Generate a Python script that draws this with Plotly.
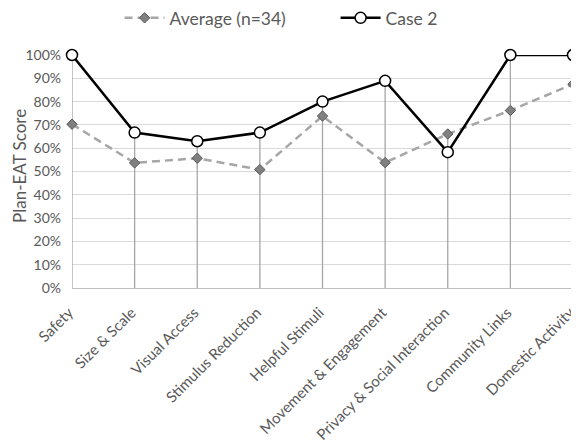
import plotly.graph_objects as go

categories = ["Safety", "Size & Scale", "Visual Access", "Stimulus Reduction",
              "Helpful Stimuli", "Movement & Engagement", "Privacy & Social Interaction",
              "Community Links", "Domestic Activity"]
average_n34 = [70.3, 53.7, 55.7, 50.8, 73.8, 53.8, 66.1, 76.2, 87.5]
case_2 = [100, 66.7, 63.0, 66.7, 80.0, 88.9, 58.3, 100, 100]
y_ticks = [0, 10, 20, 30, 40, 50, 60, 70, 80, 90, 100]
y_tick_labels = [f"{v}%" for v in y_ticks]
y_title = "Plan-EAT Score"

FONT = "Lato"
TXT = "#595959"

# drop lines from the highest point of each category down to the axis
drop_x, drop_y = [], []
for c, a, b in zip(categories, average_n34, case_2):
    drop_x += [c, c, None]
    drop_y += [0, max(a, b), None]

fig = go.Figure()
fig.add_trace(go.Scatter(x=drop_x, y=drop_y, mode="lines",
                         line=dict(color="#a6a6a6", width=1.3),
                         showlegend=False, hoverinfo="skip", cliponaxis=False))
fig.add_trace(go.Scatter(x=categories, y=average_n34, name="Average (n=34)",
                         mode="lines+markers",
                         line=dict(color="#a6a6a6", width=2.5, dash="8px,5px"),
                         marker=dict(symbol="diamond", size=8, color="#808080",
                                     line=dict(color="#595959", width=1)),
                         cliponaxis=False))
fig.add_trace(go.Scatter(x=categories, y=case_2, name="Case 2",
                         mode="lines+markers",
                         line=dict(color="#000000", width=2.5),
                         marker=dict(symbol="circle", size=11, color="#ffffff",
                                     line=dict(color="#000000", width=1.5)),
                         cliponaxis=False))

fig.add_annotation(text=y_title, textangle=-90, xref="paper", yref="paper",
                   x=0, y=0.524, xanchor="center", yanchor="middle", xshift=-52,
                   borderpad=0, showarrow=False,
                   font=dict(size=17, color=TXT, family=FONT))

fig.update_layout(
    width=571, height=435,
    margin=dict(l=64, r=6, t=47, b=155, autoexpand=False),
    paper_bgcolor="white", plot_bgcolor="white",
    font=dict(family=FONT, size=14, color=TXT),
    showlegend=True,
    legend=dict(orientation="h", x=0.095, xanchor="left", y=1.159, yanchor="middle",
                font=dict(size=17.5, color=TXT, family=FONT),
                itemwidth=40, entrywidth=161, traceorder="normal",
                bgcolor="rgba(0,0,0,0)"),
    xaxis=dict(type="category", range=[0, len(categories) - 1],
               tickangle=-45, showgrid=False, showline=False, zeroline=False,
               ticks="", automargin=False, ticklabelstandoff=12, ticklabelshift=-3,
               tickfont=dict(size=15, color=TXT, family=FONT)),
    yaxis=dict(range=[0, 100], tickmode="array", tickvals=y_ticks, ticktext=y_tick_labels,
               showgrid=True, gridcolor="#d9d9d9", gridwidth=1,
               zeroline=True, zerolinecolor="#bfbfbf", zerolinewidth=1,
               showline=False, ticks="", automargin=False, ticklabelstandoff=10,
               tickfont=dict(size=14, color=TXT, family=FONT)),
)

fig.write_html("out.html")
